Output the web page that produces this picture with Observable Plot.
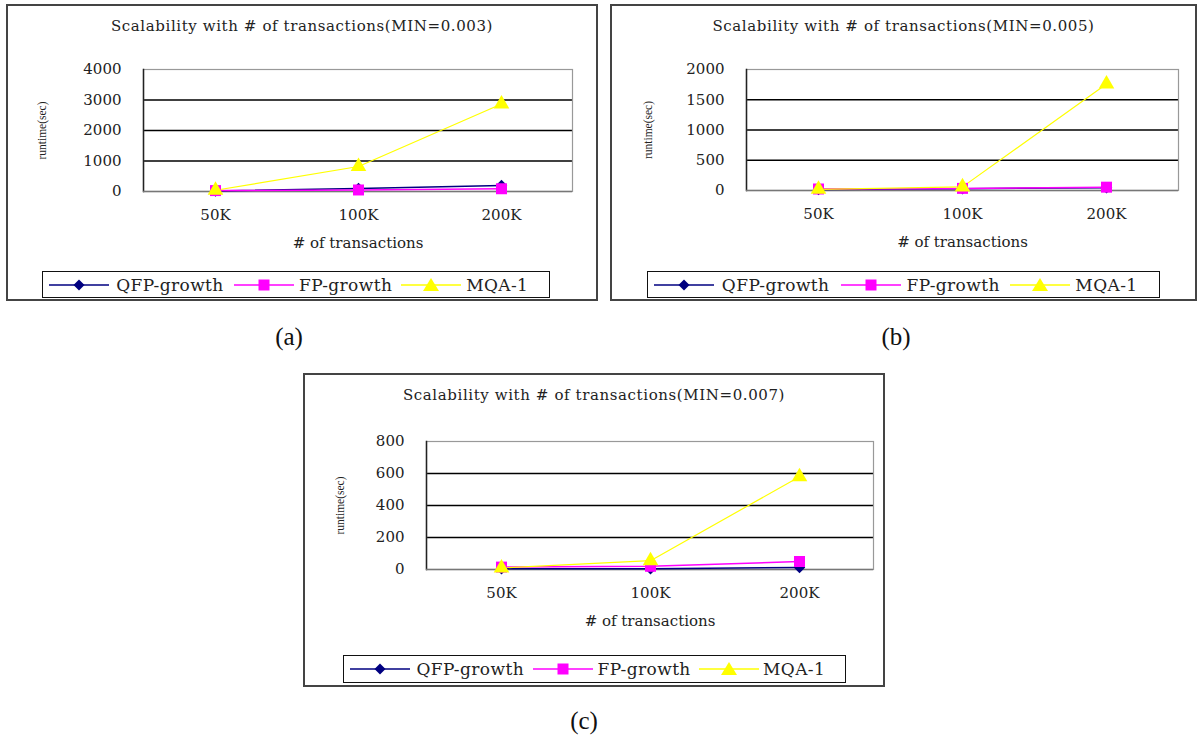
<!DOCTYPE html>
<html>
<head>
<meta charset="utf-8">
<script src="https://cdn.jsdelivr.net/npm/d3@7"></script>
<script src="https://cdn.jsdelivr.net/npm/@observablehq/plot@0.6"></script>
<style>
  body { margin: 0; background: #fff; }
  #root { position: relative; width: 1199px; height: 740px; background: #fff; overflow: hidden; }
  .box { position: absolute; border: 2px solid #444; box-sizing: border-box; }
  .title { position: absolute; font-family: "DejaVu Serif"; font-size: 15px; letter-spacing: 0.6px; color: #222; white-space: nowrap; transform: translate(-50%, -50%); }
  .legend { position: absolute; border: 1.5px solid #111; box-sizing: border-box; background: #fff; }
  .legend .item { position: absolute; top: 50%; transform: translateY(-50%); display: flex; align-items: center; }
  .legend .lt { position: absolute; top: 50%; transform: translateY(-50%); font-family: "DejaVu Serif"; font-size: 17px; letter-spacing: 0.4px; color: #222; white-space: nowrap; }
  .cap { position: absolute; font-family: "Liberation Serif"; font-size: 25px; color: #111; transform: translate(-50%, -50%); }
  svg.plot { position: absolute; overflow: visible; }
</style>
</head>
<body>
<div id="root"></div>
<script>
// ---- data ----
const categories = ["50K", "100K", "200K"];
const seriesNames = ["QFP-growth", "FP-growth", "MQA-1"];
const seriesColors = ["#000080", "#ff00ff", "#ffff00"];

const qfpA = [20, 100, 200];
const fpA  = [30, 50, 90];
const mqaA = [40, 820, 2870];

const qfpB = [15, 30, 45];
const fpB  = [25, 35, 55];
const mqaB = [20, 60, 1760];

const qfpC = [5, 5, 12];
const fpC  = [15, 20, 50];
const mqaC = [10, 55, 580];

const yTicksA = [0, 1000, 2000, 3000, 4000];
const yTicksB = [0, 500, 1000, 1500, 2000];
const yTicksC = [0, 200, 400, 600, 800];

const titleA = "Scalability with # of transactions(MIN=0.003)";
const titleB = "Scalability with # of transactions(MIN=0.005)";
const titleC = "Scalability with # of transactions(MIN=0.007)";
const xLabel = "# of transactions";
const yLabel = "runtime(sec)";
const captions = ["(a)", "(b)", "(c)"];

// ---- layout (absolute page coords) ----
const panels = [
  { box: [6, 4, 592, 297], frame: [143, 572, 69, 191], legend: [42, 271, 508, 27], yLabelX: 42,
    title: titleA, titleY: 26, ticks: yTicksA, series: [qfpA, fpA, mqaA], cap: [289, 337] },
  { box: [610, 4, 587, 297], frame: [746, 1178, 69, 190], legend: [647, 271, 513, 27], yLabelX: 648,
    title: titleB, titleY: 26, ticks: yTicksB, series: [qfpB, fpB, mqaB], cap: [896, 337] },
  { box: [303, 373, 582, 314], frame: [426, 873, 441, 569], legend: [343, 655, 503, 28], yLabelX: 340,
    title: titleC, titleY: 395, ticks: yTicksC, series: [qfpC, fpC, mqaC], cap: [584, 721] }
];

const root = document.getElementById("root");
const symbols = ["diamond2", "square", "triangle"];
const radii = [5.2, 6.2, 5.8];

function markerSVG(i) {
  const c = seriesColors[i];
  let m = "";
  if (i === 0) m = `<path d="M30,1.5 L35.5,7 L30,12.5 L24.5,7 Z" fill="${c}"/>`;
  if (i === 1) m = `<rect x="24.5" y="1.5" width="11" height="11" fill="${c}"/>`;
  if (i === 2) m = `<path d="M30,0 L38,13 L22,13 Z" fill="${c}"/>`;
  return `<svg width="60" height="14"><line x1="0" x2="60" y1="7" y2="7" stroke="${c}" stroke-width="1.5"/>${m}</svg>`;
}

panels.forEach((p, pi) => {
  const [bx, by, bw, bh] = p.box;
  const box = document.createElement("div");
  box.className = "box";
  Object.assign(box.style, { left: bx + "px", top: by + "px", width: bw + "px", height: bh + "px" });
  root.appendChild(box);

  const t = document.createElement("div");
  t.className = "title";
  t.textContent = p.title;
  Object.assign(t.style, { left: (bx + bw / 2) + "px", top: p.titleY + "px" });
  root.appendChild(t);

  const [fl, fr, ft, fb] = p.frame;
  const height = fb - by + 75;
  const data = [];
  p.series.forEach((vals, si) => vals.forEach((v, ci) => data.push({ s: seriesNames[si], si, cat: categories[ci], v })));
  const ymax = p.ticks[p.ticks.length - 1];

  const marks = [
    Plot.gridY(p.ticks.slice(1, -1), { stroke: "#000", strokeOpacity: 1, strokeWidth: 1.3 }),
    Plot.frame({ stroke: "#999", strokeWidth: 1.2 }),
    Plot.frame({ anchor: "left", stroke: "#222", strokeWidth: 1.5 }),
    Plot.ruleY([0], { stroke: "#777", strokeWidth: 1.6 }),
    Plot.axisX({ tickSize: 0, tickPadding: 18, fontSize: 15, label: null, fontFamily: "DejaVu Serif", fill: "#222" }),
    Plot.axisY({ ticks: p.ticks, tickSize: 0, tickPadding: 22, fontSize: 15, label: null, tickFormat: d => String(d), fontFamily: "DejaVu Serif", fill: "#222" }),
    Plot.text([xLabel], { frameAnchor: "bottom", dy: 56, fontSize: 15, fontFamily: "DejaVu Serif", fill: "#222", letterSpacing: 0.3 }),
    Plot.text([yLabel], { frameAnchor: "left", textAnchor: "middle", dx: -(fl - p.yLabelX), rotate: -90, fontSize: 11.5, fontFamily: "Liberation Serif", fill: "#222", letterSpacing: -0.4 })
  ];
  seriesNames.forEach((name, si) => {
    const d = data.filter(r => r.si === si);
    marks.push(Plot.line(d, { x: "cat", y: "v", stroke: seriesColors[si], strokeWidth: si === 2 ? 1.2 : 1.5 }));
  });
  seriesNames.forEach((name, si) => {
    const d = data.filter(r => r.si === si);
    marks.push(Plot.dot(d, { x: "cat", y: "v", symbol: () => symbols[si], fill: seriesColors[si], stroke: "none", r: radii[si] }));
  });

  const chart = Plot.plot({
    width: bw,
    height,
    marginLeft: fl - bx,
    marginRight: bx + bw - fr,
    marginTop: ft - by,
    marginBottom: height - (fb - by),
    style: { fontFamily: "DejaVu Serif", color: "#222", background: "transparent", overflow: "visible" },
    x: { type: "point", domain: categories, padding: 0.5 },
    y: { domain: [0, ymax] },
    symbol: { type: "identity" },
    marks
  });
  chart.classList.add("plot");
  chart.style.left = bx + "px";
  chart.style.top = by + "px";
  root.appendChild(chart);

  const [lx, ly, lw, lh] = p.legend;
  const lg = document.createElement("div");
  lg.className = "legend";
  Object.assign(lg.style, { left: lx + "px", top: ly + "px", width: lw + "px", height: lh + "px" });
  const lineFrac = [0.012, 0.376, 0.705];
  const textFrac = [0.144, 0.504, 0.833];
  seriesNames.forEach((name, si) => {
    const it = document.createElement("div");
    it.className = "item";
    it.style.left = (lineFrac[si] * lw) + "px";
    it.innerHTML = markerSVG(si);
    lg.appendChild(it);
    const tx = document.createElement("div");
    tx.className = "lt";
    tx.style.left = (textFrac[si] * lw) + "px";
    tx.textContent = name;
    lg.appendChild(tx);
  });
  root.appendChild(lg);

  const cap = document.createElement("div");
  cap.className = "cap";
  cap.textContent = captions[pi];
  Object.assign(cap.style, { left: p.cap[0] + "px", top: p.cap[1] + "px" });
  root.appendChild(cap);
});
</script>
</body>
</html>
